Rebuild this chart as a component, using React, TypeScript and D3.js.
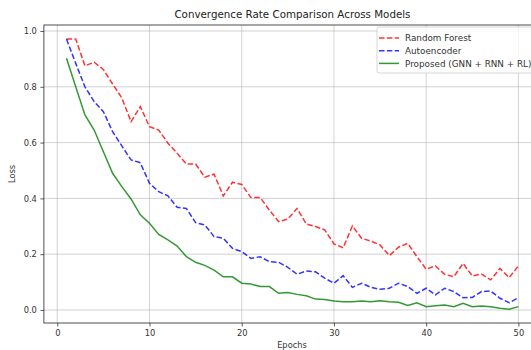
import React, { useEffect, useRef } from 'react';
import * as d3 from 'd3';

// Loss per epoch
const epochs = d3.range(1, 51);
const randomForest = [
  0.971, 0.971, 0.875, 0.888, 0.862, 0.81, 0.76, 0.675, 0.729, 0.657,
  0.645, 0.598, 0.562, 0.523, 0.523, 0.476, 0.487, 0.409, 0.458, 0.45,
  0.403, 0.403, 0.358, 0.317, 0.326, 0.364, 0.308, 0.299, 0.287, 0.237,
  0.223, 0.301, 0.257, 0.247, 0.233, 0.195, 0.225, 0.239, 0.191, 0.146,
  0.158, 0.128, 0.119, 0.167, 0.122, 0.129, 0.108, 0.149, 0.116, 0.158,
];
const autoencoder = [
  0.971, 0.884, 0.8, 0.747, 0.711, 0.639, 0.588, 0.538, 0.528, 0.454,
  0.424, 0.409, 0.368, 0.364, 0.313, 0.305, 0.263, 0.257, 0.221, 0.209,
  0.185, 0.191, 0.173, 0.171, 0.153, 0.128, 0.14, 0.137, 0.114, 0.096,
  0.123, 0.081, 0.096, 0.081, 0.074, 0.078, 0.096, 0.084, 0.06, 0.078,
  0.054, 0.078, 0.066, 0.044, 0.045, 0.066, 0.068, 0.042, 0.026, 0.044,
];
const proposed = [
  0.902, 0.8, 0.699, 0.645, 0.567, 0.49, 0.442, 0.398, 0.341, 0.311,
  0.271, 0.251, 0.229, 0.191, 0.171, 0.16, 0.143, 0.119, 0.119, 0.096,
  0.093, 0.084, 0.084, 0.06, 0.063, 0.056, 0.051, 0.039, 0.038, 0.032,
  0.03, 0.03, 0.032, 0.03, 0.033, 0.03, 0.028, 0.016, 0.026, 0.012,
  0.015, 0.018, 0.012, 0.024, 0.012, 0.014, 0.012, 0.006, 0.003, 0.012,
];
const xTicks = [0, 10, 20, 30, 40, 50];
const yTicks = [0, 0.2, 0.4, 0.6, 0.8, 1.0];

const series = [
  { name: 'Random Forest', values: randomForest, color: '#ff0000', dash: '5.5,2.4' },
  { name: 'Autoencoder', values: autoencoder, color: '#0000ff', dash: '5.5,2.4' },
  { name: 'Proposed (GNN + RNN + RL)', values: proposed, color: '#008000', dash: null },
];

const W = 531;
const H = 350;
const FONT = 'DejaVu Sans, sans-serif';

const App = () => {
  const svgRef = useRef<SVGSVGElement>(null);

  useEffect(() => {
    const svg = d3.select(svgRef.current);
    svg.selectAll('*').remove();

    // axes box runs a little past the right edge of the picture
    const x = d3.scaleLinear().domain([-1.45, 52.45]).range([43.9, 541]);
    const y = d3.scaleLinear().domain([-0.0466, 1.0215]).range([323, 25]);
    const [x0, x1] = x.range();
    const [y0, y1] = y.range();

    svg.append('rect')
      .attr('width', W).attr('height', H).attr('fill', '#fff');

    // grid
    const grid = svg.append('g');
    grid.selectAll('.gx').data(xTicks).enter().append('line')
      .attr('x1', d => x(d)).attr('x2', d => x(d))
      .attr('y1', y1).attr('y2', y0)
      .attr('stroke', '#b0b0b0').attr('stroke-opacity', 0.7).attr('stroke-width', 0.8);
    grid.selectAll('.gy').data(yTicks).enter().append('line')
      .attr('x1', x0).attr('x2', x1)
      .attr('y1', d => y(d)).attr('y2', d => y(d))
      .attr('stroke', '#b0b0b0').attr('stroke-opacity', 0.7).attr('stroke-width', 0.8);

    // lines
    const line = d3.line<number>()
      .x((_, i) => x(epochs[i]))
      .y(d => y(d));

    series.forEach(s => {
      svg.append('path')
        .datum(s.values)
        .attr('fill', 'none')
        .attr('stroke', s.color)
        .attr('stroke-opacity', 0.8)
        .attr('stroke-width', 1.5)
        .attr('stroke-dasharray', s.dash)
        .attr('d', line);
    });

    // axes
    const xAxis = svg.append('g')
      .attr('transform', `translate(0,${y0})`)
      .call(d3.axisBottom(x).tickValues(xTicks).tickFormat(d3.format('d')).tickSize(3.5).tickPadding(3.5));
    const yAxis = svg.append('g')
      .attr('transform', `translate(${x0},0)`)
      .call(d3.axisLeft(y).tickValues(yTicks).tickFormat(d3.format('.1f')).tickSize(3.5).tickPadding(3.5));
    [xAxis, yAxis].forEach(a => {
      a.select('.domain').remove();
      a.selectAll('line').attr('stroke', '#333').attr('stroke-width', 0.8);
      a.selectAll('text').attr('fill', '#333').style('font-family', FONT).style('font-size', '8.3px');
    });

    // spines
    svg.append('rect')
      .attr('x', x0).attr('y', y1)
      .attr('width', x1 - x0).attr('height', y0 - y1)
      .attr('fill', 'none').attr('stroke', '#222').attr('stroke-width', 0.8);

    // labels
    svg.append('text')
      .attr('x', (x0 + x1) / 2).attr('y', 18)
      .attr('text-anchor', 'middle')
      .style('font-family', FONT).style('font-size', '10.3px').attr('fill', '#222')
      .text('Convergence Rate Comparison Across Models');
    svg.append('text')
      .attr('x', 292).attr('y', 348)
      .attr('text-anchor', 'middle')
      .style('font-family', FONT).style('font-size', '8.3px').attr('fill', '#333')
      .text('Epochs');
    svg.append('text')
      .attr('transform', `translate(15,${(y0 + y1) / 2}) rotate(-90)`)
      .attr('text-anchor', 'middle')
      .style('font-family', FONT).style('font-size', '8.3px').attr('fill', '#333')
      .text('Loss');

    // legend
    const legend = svg.append('g').attr('transform', 'translate(377,27)');
    legend.append('rect')
      .attr('x', 0).attr('y', 0).attr('width', 175).attr('height', 46).attr('rx', 2)
      .attr('fill', '#fff').attr('fill-opacity', 0.8)
      .attr('stroke', '#ccc').attr('stroke-width', 0.8);
    series.forEach((s, i) => {
      const ly = 11 + i * 12.7;
      legend.append('line')
        .attr('x1', 2).attr('x2', 22).attr('y1', ly).attr('y2', ly)
        .attr('stroke', s.color).attr('stroke-opacity', 0.8).attr('stroke-width', 1.5)
        .attr('stroke-dasharray', s.dash);
      legend.append('text')
        .attr('x', 28).attr('y', ly + 3.2)
        .style('font-family', FONT).style('font-size', '8.8px').attr('fill', '#333')
        .text(s.name);
    });
  }, []);

  return (
    <div style={{ position: 'absolute', left: 0, top: 0 }}>
      <svg ref={svgRef} width={W} height={H} style={{ display: 'block' }} />
    </div>
  );
};

export default App;
